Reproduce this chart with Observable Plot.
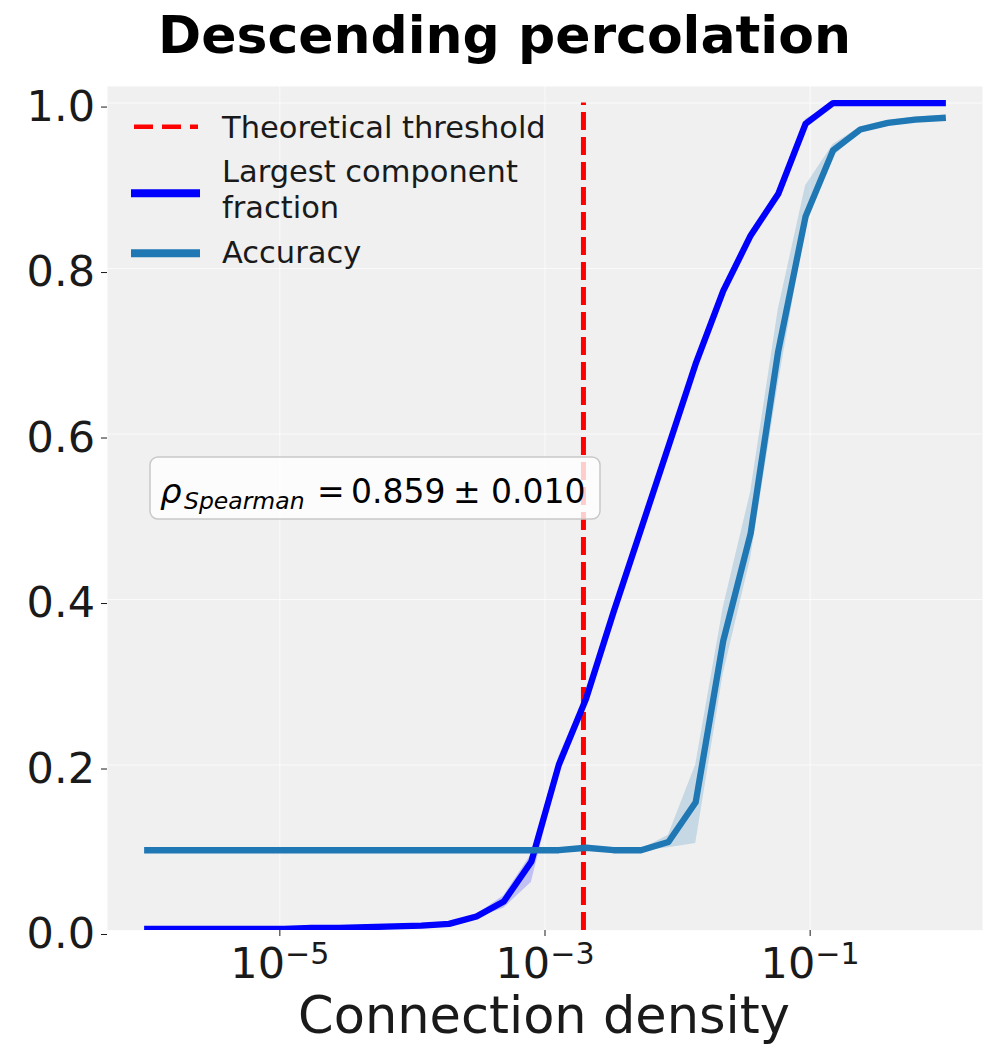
<!DOCTYPE html>
<html>
<head>
<meta charset="utf-8">
<script src="https://cdn.jsdelivr.net/npm/d3@7"></script>
<script src="https://cdn.jsdelivr.net/npm/@observablehq/plot@0.6"></script>
<style>
  body { margin: 0; background: #fff; width: 987px; height: 1044px; overflow: hidden; position: relative; }
  #title { position: absolute; top: 5px; left: 0; width: 987px; box-sizing: border-box; padding-left: 22px;
           text-align: center; font: 700 52px 'DejaVu Sans', sans-serif; line-height: normal;
           color: #000; white-space: nowrap; }
  #chart { position: absolute; top: 80px; left: 0; }
</style>
</head>
<body>
<div id="title">Descending percolation</div>
<div id="chart"></div>
<script>
// ---- data ----
const density = [1.00e-6, 1.61e-6, 2.59e-6, 4.18e-6, 6.72e-6, 1.08e-5, 1.74e-5, 2.81e-5, 4.52e-5, 7.28e-5,
                 1.17e-4, 1.89e-4, 3.04e-4, 4.89e-4, 7.88e-4, 1.27e-3, 2.04e-3, 3.29e-3, 5.30e-3, 8.53e-3,
                 1.37e-2, 2.21e-2, 3.56e-2, 5.74e-2, 9.24e-2, 0.149, 0.239, 0.386, 0.621, 1.0];
const largestComponent = [0.002, 0.002, 0.002, 0.002, 0.002, 0.002, 0.003, 0.003, 0.004, 0.005,
                          0.006, 0.008, 0.017, 0.035, 0.083, 0.200, 0.280, 0.385, 0.485, 0.585,
                          0.685, 0.773, 0.840, 0.890, 0.975, 1.000, 1.000, 1.000, 1.000, 1.000];
const largestLow  = [0.001, 0.001, 0.001, 0.001, 0.001, 0.001, 0.002, 0.002, 0.003, 0.004,
                     0.005, 0.007, 0.015, 0.027, 0.058, 0.190, 0.275, 0.380, 0.480, 0.580,
                     0.680, 0.768, 0.835, 0.885, 0.970, 1.000, 1.000, 1.000, 1.000, 1.000];
const largestHigh = [0.003, 0.003, 0.003, 0.003, 0.003, 0.003, 0.004, 0.004, 0.005, 0.006,
                     0.007, 0.009, 0.019, 0.042, 0.092, 0.210, 0.285, 0.390, 0.490, 0.590,
                     0.690, 0.778, 0.845, 0.895, 0.980, 1.000, 1.000, 1.000, 1.000, 1.000];
const accuracy = [0.097, 0.097, 0.097, 0.097, 0.097, 0.097, 0.097, 0.097, 0.097, 0.097,
                  0.097, 0.097, 0.097, 0.097, 0.097, 0.097, 0.100, 0.097, 0.097, 0.107,
                  0.155, 0.350, 0.480, 0.700, 0.863, 0.943, 0.968, 0.976, 0.980, 0.982];
const accuracyLow  = [0.096, 0.096, 0.096, 0.096, 0.096, 0.096, 0.096, 0.096, 0.096, 0.096,
                      0.096, 0.096, 0.096, 0.096, 0.096, 0.096, 0.099, 0.096, 0.096, 0.100,
                      0.105, 0.310, 0.450, 0.660, 0.850, 0.935, 0.965, 0.973, 0.977, 0.979];
const accuracyHigh = [0.098, 0.098, 0.098, 0.098, 0.098, 0.098, 0.098, 0.098, 0.098, 0.098,
                      0.098, 0.098, 0.098, 0.098, 0.098, 0.098, 0.101, 0.098, 0.098, 0.115,
                      0.200, 0.390, 0.530, 0.750, 0.900, 0.950, 0.971, 0.979, 0.983, 0.985];
const threshold = 0.00195;
const xTicks = [1e-5, 1e-3, 1e-1];
const yTicks = [0.0, 0.2, 0.4, 0.6, 0.8, 1.0];
const legendLabels = [["Theoretical threshold"], ["Largest component", "fraction"], ["Accuracy"]];
const legendColors = ["#ff0000", "#0000ff", "#1f77b4"];
const spearmanValue = "0.859";
const spearmanError = "0.010";
const xLabel = "Connection density";

const rows = density.map((d, i) => ({
  x: d, lc: largestComponent[i], lcLo: largestLow[i], lcHi: largestHigh[i],
  acc: accuracy[i], accLo: accuracyLow[i], accHi: accuracyHigh[i]
}));

const FONT = "'DejaVu Sans', sans-serif";

const plot = Plot.plot({
  width: 987, height: 964,
  marginTop: 6, marginBottom: 114, marginLeft: 107, marginRight: 5,
  style: { fontFamily: FONT, background: "transparent", overflow: "visible" },
  x: { type: "log", domain: [Math.pow(10, -6.3), Math.pow(10, 0.3)] },
  y: { domain: [0, 1.02] },
  marks: [
    Plot.frame({ fill: "#f0f0f0", stroke: null }),
    Plot.gridX(xTicks, { stroke: "#ffffff", strokeOpacity: 0.7, strokeWidth: 1 }),
    Plot.gridY(yTicks, { stroke: "#ffffff", strokeOpacity: 0.7, strokeWidth: 1 }),
    Plot.ruleX([threshold], { x: d => d, y1: 0, y2: 1, stroke: "#ff0000", strokeWidth: 5, strokeDasharray: "18,7" }),
    Plot.areaY(rows, { x: "x", y1: "lcLo", y2: "lcHi", fill: "#0000ff", fillOpacity: 0.2, clip: true }),
    Plot.line(rows, { x: "x", y: "lc", stroke: "#0000ff", strokeWidth: 6.3, strokeLinecap: "square", clip: true }),
    Plot.areaY(rows, { x: "x", y1: "accLo", y2: "accHi", fill: "#1f77b4", fillOpacity: 0.2 }),
    Plot.line(rows, { x: "x", y: "acc", stroke: "#1f77b4", strokeWidth: 6.3, strokeLinecap: "square" }),
    Plot.axisY(yTicks, { tickSize: 6, tickPadding: 6.5, fontSize: 43, dy: 4, color: "#1a1a1a",
                         tickFormat: d => d.toFixed(1), label: null }),
    Plot.axisX(xTicks, { tickSize: 6, tickPadding: 10.5, fontSize: 43, color: "#1a1a1a",
                         tickFormat: d => "10^" + Math.round(Math.log10(d)), label: null })
  ]
});

document.getElementById("chart").appendChild(plot);
const svg = d3.select(plot);

// dash pattern starts at the bottom of the threshold line, as in the reference
svg.selectAll('g[aria-label="rule"] line').each(function () {
  const l = d3.select(this);
  const a = +l.attr("y1"), b = +l.attr("y2");
  if (a < b) { l.attr("y1", b).attr("y2", a); }
});

// superscript exponents on x tick labels
svg.selectAll('g[aria-label="x-axis tick label"] text').each(function () {
  const t = d3.select(this);
  const [base, exp] = t.text().split("^");
  t.text(null);
  t.append("tspan").text(base);
  t.append("tspan").attr("dy", "-0.45em").attr("font-size", "0.7em").text(exp.replace("-", "\u2212"));
});

// x axis label
svg.append("text")
  .attr("x", 544).attr("y", 953)
  .attr("text-anchor", "middle")
  .attr("font-family", FONT).attr("font-size", 51).attr("fill", "#1a1a1a")
  .text(xLabel);

// legend
const lg = svg.append("g").attr("font-family", FONT).attr("font-size", 30.5).attr("fill", "#1a1a1a")
  .attr("text-anchor", "start");
lg.append("line").attr("x1", 134).attr("x2", 198).attr("y1", 46.7).attr("y2", 46.7)
  .attr("stroke", legendColors[0]).attr("stroke-width", 4.5).attr("stroke-dasharray", "19,9");
lg.append("text").attr("x", 222).attr("y", 58.3).text(legendLabels[0][0]);
lg.append("line").attr("x1", 131).attr("x2", 200).attr("y1", 113.3).attr("y2", 113.3)
  .attr("stroke", legendColors[1]).attr("stroke-width", 8);
lg.append("text").attr("x", 222).attr("y", 101.7).text(legendLabels[1][0]);
lg.append("text").attr("x", 222).attr("y", 138.3).text(legendLabels[1][1]);
lg.append("line").attr("x1", 131).attr("x2", 200).attr("y1", 173.3).attr("y2", 173.3)
  .attr("stroke", legendColors[2]).attr("stroke-width", 8);
lg.append("text").attr("x", 222).attr("y", 183.3).text(legendLabels[2][0]);

// Spearman annotation box
const bx = svg.append("g").attr("font-family", FONT).attr("fill", "#000").attr("text-anchor", "start");
bx.append("rect").attr("x", 150).attr("y", 377).attr("width", 450).attr("height", 62).attr("rx", 8)
  .attr("fill", "#ffffff").attr("fill-opacity", 0.8).attr("stroke", "#c8c8c8").attr("stroke-width", 1.5);
bx.append("text").attr("x", 160).attr("y", 423).attr("font-size", 34).attr("font-style", "italic").text("\u03C1");
bx.append("text").attr("x", 184).attr("y", 429).attr("font-size", 23.5).attr("font-style", "italic").text("Spearman");
bx.append("text").attr("x", 317).attr("y", 423).attr("font-size", 33).text("=");
bx.append("text").attr("x", 351).attr("y", 423).attr("font-size", 33).text(spearmanValue);
bx.append("text").attr("x", 453).attr("y", 423).attr("font-size", 33).text("\u00B1");
bx.append("text").attr("x", 491).attr("y", 423).attr("font-size", 33).text(spearmanError);
</script>
</body>
</html>
